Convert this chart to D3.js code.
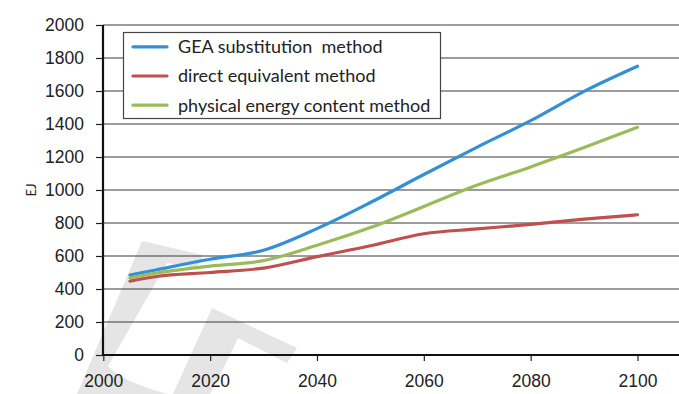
<!DOCTYPE html>
<html>
<head>
<meta charset="utf-8">
<script src="https://cdn.jsdelivr.net/npm/d3@7"></script>
<style>
  body { margin: 0; background: #fff; }
  svg { display: block; font-family: Lato, "Open Sans", sans-serif; }
</style>
</head>
<body>
<svg id="chart"></svg>
<script>
// values (EJ)
var years = [2005, 2010, 2020, 2030, 2040, 2050, 2060, 2070, 2080, 2090, 2100];
var geaSubstitution = [485, 517, 580, 635, 766, 924, 1094, 1260, 1420, 1598, 1750];
var directEquivalent = [448, 476, 500, 527, 596, 662, 735, 764, 792, 823, 850];
var physicalContent = [468, 497, 539, 572, 665, 772, 900, 1030, 1140, 1257, 1380];
var seriesNames = ["GEA substitution  method", "direct equivalent method", "physical energy content method"];
var seriesColors = ["#3390d4", "#c0504d", "#9bbb59"];
var xTicks = [2000, 2020, 2040, 2060, 2080, 2100];
var yTicks = [0, 200, 400, 600, 800, 1000, 1200, 1400, 1600, 1800, 2000];

var W = 679, H = 394;
var margin = {top: 25, right: 0, bottom: 39, left: 103};

var svg = d3.select("#chart").attr("width", W).attr("height", H);

// light grey watermark shapes behind the chart
var wm = svg.append("g").attr("class", "watermark").attr("fill", "#e5e5e5");
wm.append("path").attr("d", "M77,394 L142,241 L203,255 L197,268 L167,263 L108,366 Q122,382 168,394 Z");
wm.append("path").attr("d", "M212,308 L297,348 L287,363 L238,338 Q228,360 210,394 L173,394 Z");

var x = d3.scaleLinear().domain([2000, 2100]).range([103.3, 637.5]);
var y = d3.scaleLinear().domain([0, 2000]).range([355, 25]);

var g = svg.append("g");

// gridlines
g.selectAll(".grid").data(yTicks.slice(1)).enter().append("line")
    .attr("class", "grid")
    .attr("x1", margin.left).attr("x2", W)
    .attr("y1", function(d) { return y(d); })
    .attr("y2", function(d) { return y(d); })
    .attr("stroke", "#3a3a3a")
    .attr("stroke-width", 1.2);

// y axis
var yAxis = d3.axisLeft(y).tickValues(yTicks).tickFormat(d3.format("d")).tickSize(7).tickPadding(12);
g.append("g")
    .attr("transform", "translate(" + margin.left + ",0)")
    .call(yAxis)
    .call(function(a) {
        a.select(".domain").remove();
        a.selectAll("line").attr("stroke", "#222").attr("stroke-width", 1.2);
        a.selectAll("text").attr("font-size", 17.5).attr("fill", "#222").attr("font-family", null);
    });

// x axis
var xAxis = d3.axisBottom(x).tickValues(xTicks).tickFormat(d3.format("d")).tickSize(6).tickPadding(14);
g.append("g")
    .attr("transform", "translate(0," + y(0) + ")")
    .call(xAxis)
    .call(function(a) {
        a.select(".domain").remove();
        a.selectAll("line").attr("stroke", "#222").attr("stroke-width", 1.2);
        a.selectAll("text").attr("font-size", 17.5).attr("fill", "#222").attr("font-family", null);
    });

// axis lines
g.append("line").attr("x1", margin.left).attr("x2", margin.left)
    .attr("y1", y(2000)).attr("y2", y(0) + 1)
    .attr("stroke", "#111").attr("stroke-width", 2.2);
g.append("line").attr("x1", margin.left - 1).attr("x2", W)
    .attr("y1", y(0)).attr("y2", y(0))
    .attr("stroke", "#111").attr("stroke-width", 2.2);

// y label
svg.append("text")
    .attr("transform", "translate(31,190) rotate(-90)")
    .attr("text-anchor", "middle")
    .attr("dy", "0.35em")
    .attr("font-size", 13)
    .attr("fill", "#222")
    .text("EJ");

// lines (smoothed like the original spreadsheet chart)
var allSeries = [geaSubstitution, directEquivalent, physicalContent];
var line = d3.line()
    .x(function(d, i) { return x(years[i]); })
    .y(function(d) { return y(d); })
    .curve(d3.curveMonotoneX);

g.selectAll(".series").data(allSeries).enter().append("path")
    .attr("class", "series")
    .attr("d", line)
    .attr("fill", "none")
    .attr("stroke", function(d, i) { return seriesColors[i]; })
    .attr("stroke-width", 3.2)
    .attr("stroke-linecap", "round");

// legend
var legend = svg.append("g").attr("class", "legend");
legend.append("rect")
    .attr("x", 123.5).attr("y", 32.5)
    .attr("width", 317).attr("height", 86)
    .attr("fill", "#fff")
    .attr("stroke", "#444")
    .attr("stroke-width", 1.2);

var rows = legend.selectAll(".row").data(seriesNames).enter().append("g")
    .attr("class", "row")
    .attr("transform", function(d, i) { return "translate(0," + (46.8 + i * 29.2) + ")"; });
rows.append("line")
    .attr("x1", 133).attr("x2", 167)
    .attr("stroke", function(d, i) { return seriesColors[i]; })
    .attr("stroke-width", 3.2)
    .attr("stroke-linecap", "round");
rows.append("text")
    .attr("x", 178)
    .attr("dy", "0.35em")
    .attr("font-size", 18)
    .attr("fill", "#222")
    .style("white-space", "pre")
    .text(function(d) { return d; });
</script>
</body>
</html>
